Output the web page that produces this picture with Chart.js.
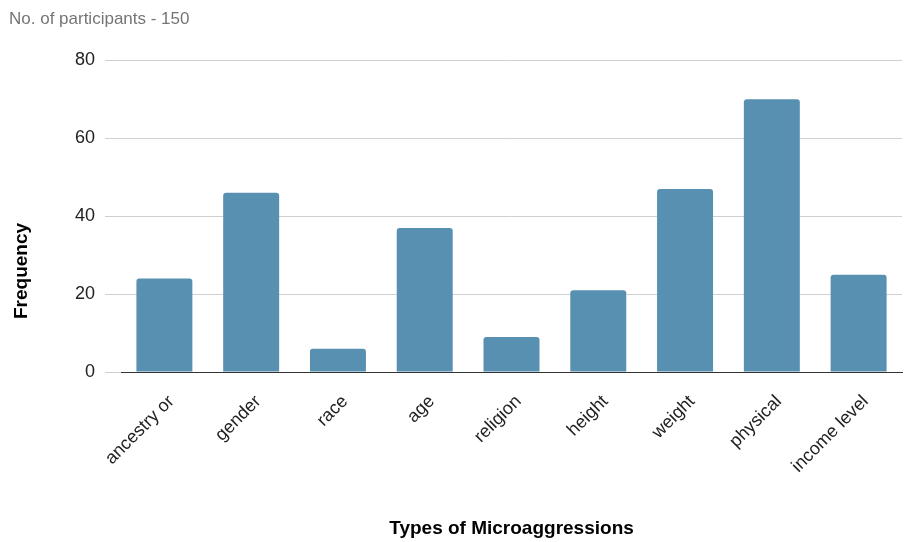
<!DOCTYPE html>
<html>
<head>
<meta charset="utf-8">
<script src="https://cdn.jsdelivr.net/npm/chart.js@4"></script>
<style>
  html, body { margin: 0; padding: 0; background: #fff; }
  #wrap { width: 906px; height: 542px; }
</style>
</head>
<body>
<div id="wrap"><canvas id="chart"></canvas></div>
<script>
// categories and counts
const categories = ['ancestry or', 'gender', 'race', 'age', 'religion', 'height', 'weight', 'physical', 'income level'];
const frequency = [24, 46, 6, 37, 9, 21, 47, 70, 25];
const yTicks = [0, 20, 40, 60, 80];

const FONT = 'Liberation Sans, Arial, sans-serif';

// y axis title sits centred on the whole canvas height, not the plot area
const yTitle = {
  id: 'yTitle',
  afterDraw(chart) {
    const ctx = chart.ctx;
    ctx.save();
    ctx.translate(22, chart.height / 2);
    ctx.rotate(-Math.PI / 2);
    ctx.font = 'bold 19px ' + FONT;
    ctx.fillStyle = '#000';
    ctx.textAlign = 'center';
    ctx.textBaseline = 'middle';
    ctx.fillText('Frequency', 0, 0);
    ctx.restore();
  },
};

new Chart(document.getElementById('chart'), {
  type: 'bar',
  data: {
    labels: categories,
    datasets: [{
      label: 'Frequency',
      data: frequency,
      backgroundColor: '#5790b0',
      borderRadius: { topLeft: 3, topRight: 3 },
      borderSkipped: 'start',
      categoryPercentage: 1,
      barPercentage: 0.645,
    }],
  },
  plugins: [yTitle],
  options: {
    responsive: true,
    maintainAspectRatio: false,
    animation: false,
    layout: { padding: { left: 9, right: 4, top: 0, bottom: 0 } },
    plugins: {
      legend: { display: false },
      tooltip: { enabled: false },
      title: {
        display: true,
        text: 'No. of participants - 150',
        align: 'start',
        color: '#757575',
        font: { family: FONT, size: 17, weight: 'normal' },
        padding: { top: 9, bottom: 31 },
      },
    },
    scales: {
      x: {
        grid: { display: false },
        border: { display: true, color: '#333', width: 1 },
        ticks: {
          color: '#222',
          font: { family: FONT, size: 18 },
          minRotation: 45,
          maxRotation: 45,
          autoSkip: false,
          padding: 11,
          labelOffset: 7,
        },
        title: {
          display: true,
          text: 'Types of Microaggressions',
          color: '#000',
          font: { family: FONT, size: 19, weight: 'bold' },
          padding: { top: 2, bottom: 2 },
        },
        afterFit: s => { s.height = 170; },
      },
      y: {
        min: 0,
        max: 80,
        afterBuildTicks: s => { s.ticks = yTicks.map(v => ({ value: v })); },
        grid: { color: '#d0d0d0', tickColor: '#d0d0d0', tickLength: 16, drawTicks: true },
        border: { display: false },
        ticks: {
          color: '#222',
          font: { family: FONT, size: 18 },
          padding: 10,
        },
        afterFit: s => { s.width = 112; },
      },
    },
  },
});
</script>
</body>
</html>
